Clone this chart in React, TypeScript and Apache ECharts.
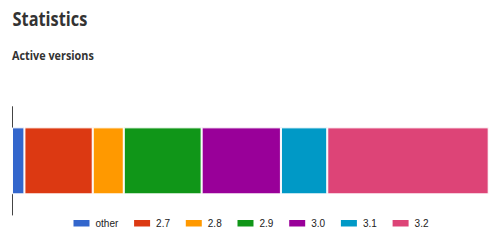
import React, { useEffect, useRef } from "react";
import * as echarts from "echarts";

const versions = ["other", "2.7", "2.8", "2.9", "3.0", "3.1", "3.2"];
const shares = [2.6, 14.3, 6.5, 16.3, 16.6, 9.7, 33.8];
const colors = ["#3366cc", "#dc3912", "#ff9900", "#109618", "#990099", "#0099c6", "#dd4477"];
const rowLabels = ["Active versions"];
const pageTitle = "Statistics";
const chartTitle = "Active versions";

export default function App() {
  const ref = useRef<HTMLDivElement>(null);
  useEffect(() => {
    if (!ref.current) return;
    const chart = echarts.init(ref.current, undefined, { renderer: "svg" });
    const total = shares.reduce((a, b) => a + b, 0);
    chart.setOption({
      animation: false,
      graphic: [
        {
          type: "text",
          x: 12.5,
          y: 18.7,
          scaleX: 0.84,
          style: {
            text: pageTitle,
            fontFamily: "Open Sans",
            fontSize: 19.5,
            fontWeight: 700,
            fill: "#333333",
            verticalAlign: "middle",
          },
        },
        {
          type: "text",
          x: 12,
          y: 54.6,
          scaleX: 0.86,
          style: {
            text: chartTitle,
            fontFamily: "Open Sans",
            fontSize: 12.6,
            fontWeight: 700,
            fill: "#333333",
            verticalAlign: "middle",
          },
        },
      ],
      legend: {
        left: "center",
        top: 213,
        itemWidth: 18,
        itemHeight: 8.5,
        itemGap: 13.8,
        icon: "rect",
        textStyle: { fontFamily: "Liberation Sans, Arial", fontSize: 10, color: "#222222" },
        data: versions,
      },
      grid: { left: 12, right: 11.3, top: 106.7, bottom: 32, containLabel: false },
      xAxis: {
        type: "value",
        min: 0,
        max: total,
        show: false,
      },
      yAxis: {
        type: "category",
        data: rowLabels,
        axisLine: { show: true, lineStyle: { color: "#444444", width: 1 } },
        axisTick: { show: false },
        axisLabel: { show: false },
      },
      series: versions.map((v, i) => ({
        name: v,
        type: "bar",
        stack: "total",
        barWidth: 67,
        data: [shares[i]],
        itemStyle: { color: colors[i], borderColor: "#ffffff", borderWidth: 1 },
      })),
    });
    return () => chart.dispose();
  }, []);
  return (
    <div
      ref={ref}
      style={{ position: "fixed", left: 0, top: 0, width: 500, height: 247, background: "#ffffff" }}
    />
  );
}
